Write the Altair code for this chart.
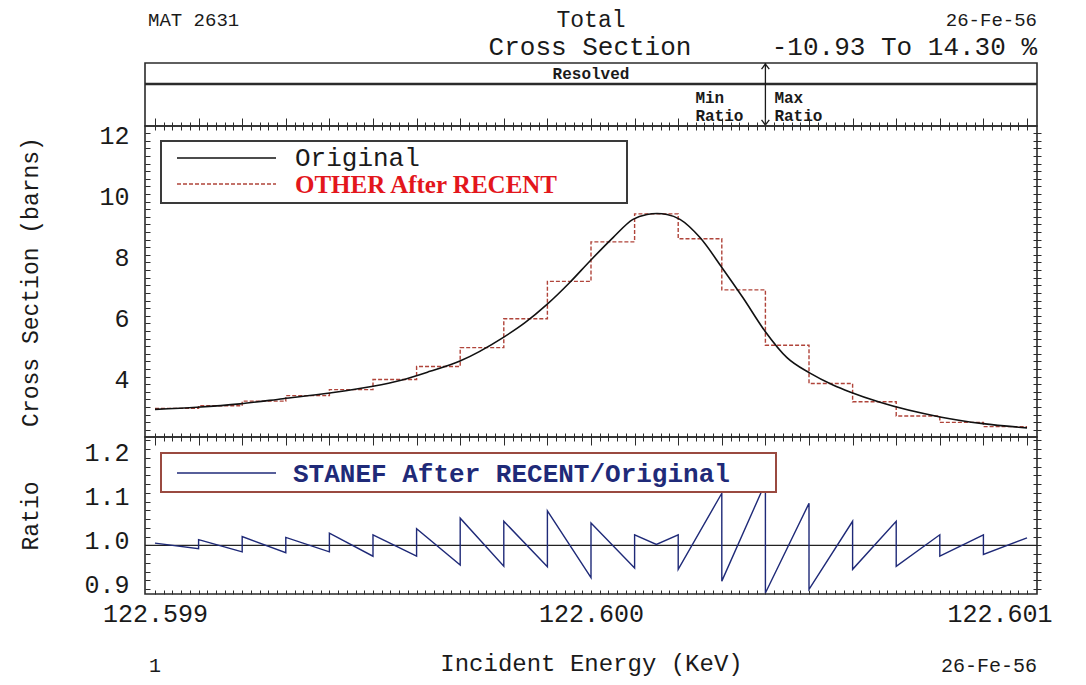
import altair as alt
import pandas as pd

# ---------------- values ----------------
# Original (pointwise) total cross section, barns, vs incident energy, keV
orig_energy = [122.5990000, 122.5990963, 122.5991950, 122.5992936, 122.5994014,
               122.5995000, 122.5995619, 122.5996307, 122.5996995, 122.5997982,
               122.5998486, 122.5998991, 122.5999518, 122.5999977, 122.6000505,
               122.6000963, 122.6001284, 122.6001514, 122.6001743, 122.6002041,
               122.6002500, 122.6003005, 122.6003486, 122.6003991, 122.6004495,
               122.6005023, 122.6005550, 122.6005940, 122.6006628, 122.6008005,
               122.6008991, 122.6010000]
orig_xs = [3.17, 3.24, 3.35, 3.52, 3.71, 3.93, 4.12, 4.42, 4.76, 5.53,
           6.02, 6.62, 7.35, 8.05, 8.82, 9.42, 9.58, 9.61, 9.58, 9.42,
           8.82, 7.83, 6.84, 5.74, 4.87, 4.36, 3.97, 3.74, 3.40, 2.92,
           2.70, 2.56]

# Group boundaries and grouped "OTHER After RECENT" values (barns)
bin_edges = [122.5990, 122.5991, 122.5992, 122.5993, 122.5994, 122.5995,
             122.5996, 122.5997, 122.5998, 122.5999, 122.6000, 122.6001,
             122.6002, 122.6003, 122.6004, 122.6005, 122.6006, 122.6007,
             122.6008, 122.6009, 122.6010]
step_xs = [3.20, 3.29, 3.44, 3.62, 3.82, 4.15, 4.58, 5.20, 6.15, 7.38,
           8.68, 9.60, 8.78, 7.10, 5.28, 4.02, 3.42, 2.95, 2.74, 2.60]

# Ratio STANEF After RECENT / Original at the start and end of each group
ratio_start = [1.005, 1.013, 1.020, 1.018, 1.028, 1.024, 1.038, 1.062, 1.055, 1.079,
               1.051, 1.024, 0.945, 0.918, 0.891, 0.899, 0.945, 0.952, 0.975, 0.979]
ratio_end = [0.992, 0.985, 0.983, 0.985, 0.975, 0.975, 0.955, 0.952, 0.951, 0.926,
             0.948, 1.024, 1.119, 1.143, 1.096, 1.055, 1.055, 1.024, 1.024, 1.017]
# interior point of the peak group (group 12)
peak_group = 11
ratio_peak_energy = 122.60015
ratio_peak_value = 1.002
ratio_reference = [1.0]

# tick labels
x_tick_labels = [122.599, 122.600, 122.601]
main_y_labels = [4, 6, 8, 10, 12]
ratio_y_labels = [0.9, 1.0, 1.1, 1.2]

# texts
header_left = "MAT 2631"
header_mid = "Total"
header_right = "26-Fe-56"
header_mid2 = "Cross Section"
header_range = "-10.93 To 14.30 %"
band_label = "Resolved"
legend_main = ["Original", "OTHER After RECENT"]
legend_ratio = "STANEF After RECENT/Original"
x_title = "Incident Energy (KeV)"
y_title_main = "Cross Section (barns)"
y_title_ratio = "Ratio"
footer_left = "1"
footer_right = "26-Fe-56"

# ---------------- tables ----------------
orig_df = pd.DataFrame({"energy": orig_energy, "xs": orig_xs})
step_df = pd.DataFrame({"energy": bin_edges, "xs": step_xs + [step_xs[-1]]})

rows = []
for i in range(len(ratio_start)):
    rows.append({"energy": bin_edges[i], "ratio": ratio_start[i]})
    if i == peak_group:
        rows.append({"energy": ratio_peak_energy, "ratio": ratio_peak_value})
    rows.append({"energy": bin_edges[i + 1], "ratio": ratio_end[i]})
ratio_df = pd.DataFrame(rows)
ratio_df["o"] = range(len(ratio_df))
ref_df = pd.DataFrame({"ratio": ratio_reference})

i_max = ratio_end.index(max(ratio_end))
arrow_df = pd.DataFrame({"energy": [bin_edges[i_max + 1]]})
mid_df = pd.DataFrame({"energy": [x_tick_labels[1]]})
one = pd.DataFrame({"k": [0]})

# ---------------- style ----------------
MONO = "Liberation Mono"
SERIF = "Liberation Serif"
INK = "#1a1a1a"
FRAME = "#2b2b2b"
RED_DASH = "#b0443a"
RED_TEXT = "#e3161c"
NAVY = "#1f2a78"
BOX2 = "#9a4a40"

W = 892
H_HDR, H_MAIN, H_RATIO = 63, 311, 157
X_DOMAIN = [122.5989771, 122.6010229]
x_scale = alt.Scale(domain=X_DOMAIN, nice=False, zero=False)
y_main_scale = alt.Scale(domain=[2.26, 12.49], nice=False, zero=False)
y_ratio_scale = alt.Scale(domain=[0.8886, 1.2477], nice=False, zero=False)

x_minor = [round(122.599 + 0.00002 * i, 5) for i in range(101)]
main_minor = [round(2.5 + 0.25 * i, 2) for i in range(40)]
ratio_minor = [round(0.90 + 0.02 * i, 2) for i in range(18)]
is_tenth = "abs(datum.value*10000 - round(datum.value*10000)) < 0.001"
is_label = "abs(datum.value*1000 - round(datum.value*1000)) < 0.0001"


def cross_x_axis(orient):
    return alt.Axis(orient=orient, values=x_minor, labels=False, title=None,
                    domain=False, grid=False, offset=-4, tickColor=FRAME, tickWidth=1,
                    tickSize={"condition": {"test": is_tenth, "value": 12}, "value": 8})


def right_axis(vals):
    return alt.Axis(orient="right", values=vals, labels=False, title=None,
                    domain=False, grid=False, offset=-4, tickSize=8,
                    tickColor=FRAME, tickWidth=1)


def txt(text, x, y, size, align="center", font=MONO, color=INK, weight="normal"):
    return alt.Chart(one).mark_text(
        text=text, font=font, fontSize=size, align=align, baseline="middle",
        color=color, fontWeight=weight
    ).encode(x=alt.value(x), y=alt.value(y))


# ---------------- header band ----------------
sep = alt.Chart(one).mark_rule(color=FRAME, strokeWidth=2.5).encode(y=alt.value(21))
band_txt = alt.Chart(mid_df).mark_text(
    text=band_label, font=MONO, fontSize=16, fontWeight="bold", color=INK
).encode(x=alt.X("energy:Q", scale=x_scale, axis=None), y=alt.value(11))
arrow = alt.Chart(arrow_df).mark_rule(color=INK, strokeWidth=1.3).encode(
    x=alt.X("energy:Q", scale=x_scale, axis=None))
head_up = alt.Chart(arrow_df).mark_point(
    shape="M-1,1.3L0,0L1,1.3", filled=False, size=60, color=INK, strokeWidth=1.3, opacity=1
).encode(x=alt.X("energy:Q", scale=x_scale, axis=None), y=alt.value(1))
head_dn = alt.Chart(arrow_df).mark_point(
    shape="M-1,-1.3L0,0L1,-1.3", filled=False, size=60, color=INK, strokeWidth=1.3, opacity=1
).encode(x=alt.X("energy:Q", scale=x_scale, axis=None), y=alt.value(62))


def arrow_txt(text, y, dx):
    return alt.Chart(arrow_df).mark_text(
        text=text, font=MONO, fontSize=16, fontWeight="bold", color=INK,
        align="left", baseline="middle", dx=dx
    ).encode(x=alt.X("energy:Q", scale=x_scale, axis=None), y=alt.value(y))


header = alt.layer(
    sep, band_txt, arrow, head_up, head_dn,
    arrow_txt("Min", 35, -70), arrow_txt("Ratio", 53, -70),
    arrow_txt("Max", 35, 9), arrow_txt("Ratio", 53, 9),
    txt(header_left, 3, -43, 19, align="left"),
    txt(header_mid, 446, -43, 23),
    txt(header_right, W, -43, 19, align="right"),
    txt(header_mid2, 445, -16, 26),
    txt(header_range, W, -16, 26, align="right"),
).properties(width=W, height=H_HDR)

# ---------------- main cross-section panel ----------------
main_left = alt.Axis(
    orient="left", values=main_minor, offset=-5, tickSize=5, tickColor=FRAME,
    domain=False, grid=False,
    labelExpr="datum.value >= 4 && datum.value % 2 == 0 ? format(datum.value, 'd') : ''",
    labelOverlap=False, labelFont=MONO, labelFontSize=25, labelColor=INK,
    labelPadding=16, labelBaseline="middle", labelOffset=-5,
    title=y_title_main, titleFont=MONO, titleFontSize=23, titleFontWeight="normal",
    titleColor=INK, titleX=-120, titleBaseline="middle", titleAngle=-90,
)
steps = alt.Chart(step_df).mark_line(
    interpolate="step-after", color=RED_DASH, strokeDash=[4, 2], strokeWidth=1.4
).encode(
    x=alt.X("energy:Q", scale=x_scale, axis=cross_x_axis("bottom")),
    y=alt.Y("xs:Q", scale=y_main_scale, axis=main_left),
)
orig = alt.Chart(orig_df).mark_line(
    interpolate="monotone", color="#111111", strokeWidth=1.6
).encode(
    x=alt.X("energy:Q", scale=x_scale, axis=cross_x_axis("top")),
    y=alt.Y("xs:Q", scale=y_main_scale, axis=right_axis(main_minor)),
)
leg1_box = alt.Chart(one).mark_rect(fill="white", stroke="#3a3a3a", strokeWidth=2).encode(
    x=alt.value(16), x2=alt.value(482), y=alt.value(15), y2=alt.value(77))
leg1_l1 = alt.Chart(one).mark_rule(color="#111111", strokeWidth=1.5).encode(
    x=alt.value(32), x2=alt.value(131), y=alt.value(32))
leg1_l2 = alt.Chart(one).mark_rule(color=RED_DASH, strokeWidth=1.4, strokeDash=[4, 2]).encode(
    x=alt.value(32), x2=alt.value(131), y=alt.value(58))
leg1_t1 = txt(legend_main[0], 150, 32, 26, align="left")
leg1_t2 = txt(legend_main[1], 150, 59, 25, align="left", font=SERIF, color=RED_TEXT, weight="bold")

main = alt.layer(steps, orig, leg1_box, leg1_l1, leg1_l2, leg1_t1, leg1_t2).properties(
    width=W, height=H_MAIN)

# ---------------- ratio panel ----------------
ratio_left = alt.Axis(
    orient="left", values=ratio_minor, offset=-5, tickSize=5, tickColor=FRAME,
    domain=False, grid=False,
    labelExpr="abs(datum.value*10 - round(datum.value*10)) < 0.000001 ? format(datum.value, '.1f') : ''",
    labelOverlap=False, labelFont=MONO, labelFontSize=25, labelColor=INK,
    labelPadding=16, labelBaseline="middle", labelOffset=-5,
    title=y_title_ratio, titleFont=MONO, titleFontSize=23, titleFontWeight="normal",
    titleColor=INK, titleX=-120, titleBaseline="middle", titleAngle=-90,
)
ratio_bottom = alt.Axis(
    orient="bottom", values=x_minor, offset=-4, tickSize=4, tickColor=FRAME,
    domain=False, grid=False,
    labelExpr=is_label + " ? format(datum.value, '.3f') : ''",
    labelOverlap=False, labelFlush=False, labelFont=MONO, labelFontSize=25,
    labelColor=INK, labelPadding=7,
    labelAlign={"condition": {"test": "datum.value > 122.6005", "value": "right"}, "value": "center"},
    labelOffset={"condition": {"test": "datum.value > 122.6005", "value": 25}, "value": 0},
    title=x_title, titleFont=MONO, titleFontSize=24, titleFontWeight="normal",
    titleColor=INK, titleY=73, titleBaseline="middle",
)
ref_rule = alt.Chart(ref_df).mark_rule(color="#222222", strokeWidth=1.2).encode(
    y=alt.Y("ratio:Q", scale=y_ratio_scale, axis=right_axis(ratio_minor)))
ratio_line = alt.Chart(ratio_df).mark_line(color=NAVY, strokeWidth=1.4).encode(
    x=alt.X("energy:Q", scale=x_scale, axis=ratio_bottom),
    y=alt.Y("ratio:Q", scale=y_ratio_scale, axis=ratio_left),
    order="o:Q",
)
leg2_box = alt.Chart(one).mark_rect(fill="white", stroke=BOX2, strokeWidth=2).encode(
    x=alt.value(16), x2=alt.value(631), y=alt.value(16), y2=alt.value(55))
leg2_l = alt.Chart(one).mark_rule(color=NAVY, strokeWidth=1.5).encode(
    x=alt.value(32), x2=alt.value(131), y=alt.value(36))
leg2_t = txt(legend_ratio, 148, 37, 26, align="left", color=NAVY, weight="bold")

ratio = alt.layer(
    ref_rule, ratio_line, leg2_box, leg2_l, leg2_t,
    txt(footer_left, 10, 229, 20),
    txt(footer_right, W, 229, 20, align="right"),
).properties(width=W, height=H_RATIO)

chart = alt.vconcat(header, main, ratio, spacing=0, bounds="flush").properties(
    padding={"left": 10, "top": 0, "right": 5, "bottom": 0}
).configure_view(stroke=FRAME, strokeWidth=1.6)

chart.save("out.html", embed_options={"renderer": "svg", "actions": False})
